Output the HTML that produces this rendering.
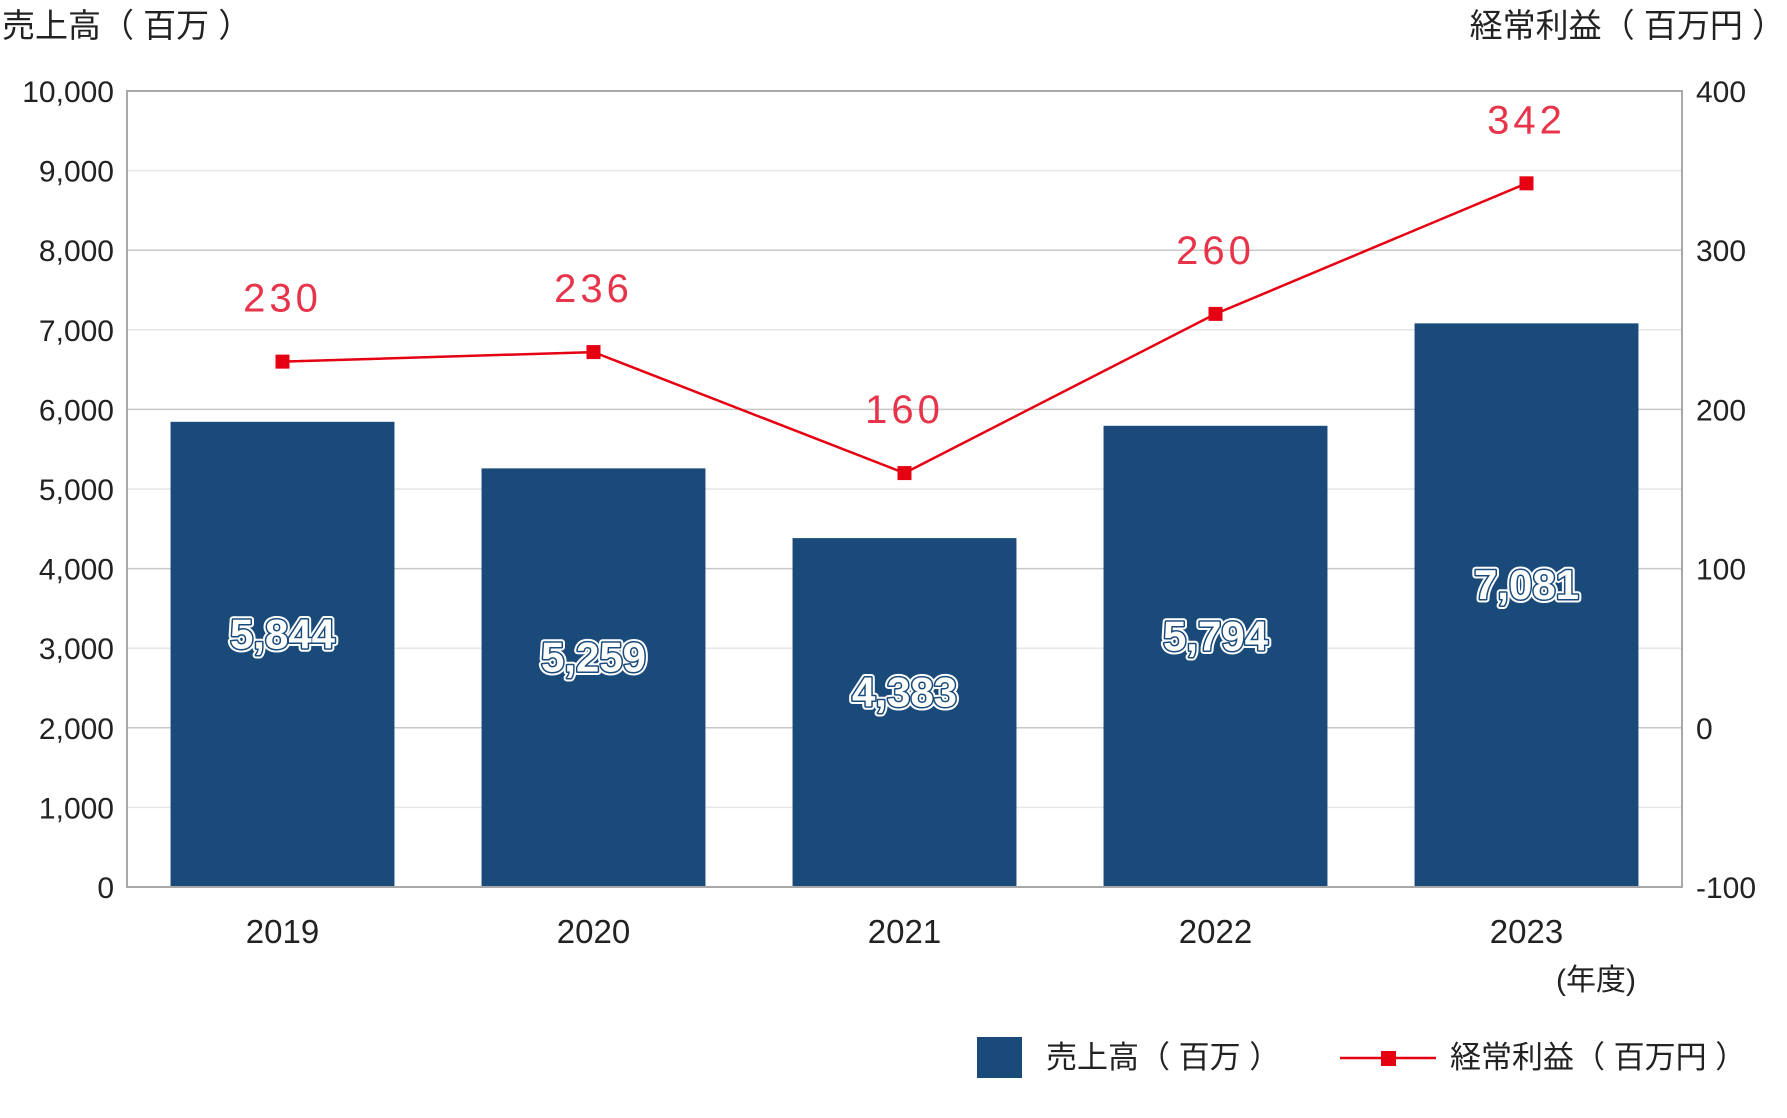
<!DOCTYPE html>
<html><head><meta charset="utf-8"><style>
body{margin:0;background:#fff;width:1787px;height:1113px;overflow:hidden;font-family:"Liberation Sans","Noto Sans CJK JP",sans-serif;}
</style></head><body>
<svg id="c" width="1787" height="1113" xmlns="http://www.w3.org/2000/svg" style="font-family:'Liberation Sans','Noto Sans CJK JP',sans-serif"></svg>
<script>
const categories=["2019","2020","2021","2022","2023"];
const sales=[5844,5259,4383,5794,7081];
const profit=[230,236,160,260,342];
const leftTicks=[0,1000,2000,3000,4000,5000,6000,7000,8000,9000,10000];
const rightTicks=[-100,0,100,200,300,400];
const L=127,R=1682,T=91,B=887;
const svg=document.getElementById('c');
const NS='http://www.w3.org/2000/svg';
function mk(tag,attrs,name,txt){const e=document.createElementNS(NS,tag);for(const k in attrs)e.setAttribute(k,attrs[k]);


if(txt!==undefined)e.textContent=txt;svg.appendChild(e);return e;}
const yL=v=>B-(v/10000)*(B-T);
const yR=v=>B-((v+100)/500)*(B-T);
const band=(R-L)/categories.length;
const xC=i=>L+band*(i+0.5);
const bw=band*0.72;
leftTicks.forEach(t=>{ if(t>0&&t<10000) mk('line',{x1:L,x2:R,y1:yL(t),y2:yL(t),stroke:(t%2000===0)?'#c8c8c8':'#e6e6e6','stroke-width':1.5},'gridline');
 mk('text',{x:114,y:yL(t)+11,'text-anchor':'end','font-size':30,fill:'#222'},'left-tick-label',t.toLocaleString('en-US'));});
rightTicks.forEach(t=>{mk('text',{x:1696,y:yR(t)+11,'font-size':30,fill:'#222'},'right-tick-label',String(t));});
categories.forEach((c,i)=>{
 mk('rect',{x:xC(i)-bw/2,y:yL(sales[i]),width:bw,height:B-yL(sales[i]),fill:'#194a7a'},'sales-bar-'+c);
 mk('text',{x:xC(i),y:931+12,'text-anchor':'middle','font-size':33,fill:'#222'},'x-tick-label',c);
});
mk('rect',{x:L,y:T,width:R-L,height:B-T,fill:'none',stroke:'#a8a8a8','stroke-width':2},'plot-frame');
categories.forEach((c,i)=>{
 const ly=(yL(sales[i])+B)/2-20;
 mk('text',{x:xC(i),y:ly+14,'text-anchor':'middle','font-size':42,'font-weight':'bold',fill:'#fff',stroke:'#fff','stroke-width':7,'stroke-linejoin':'round'},'sales-label-halo',sales[i].toLocaleString('en-US'));
 mk('text',{x:xC(i),y:ly+14,'text-anchor':'middle','font-size':42,'font-weight':'bold',fill:'#fff',stroke:'#194a7a','stroke-width':3,'paint-order':'stroke','stroke-linejoin':'round'},'sales-value-label',sales[i].toLocaleString('en-US'));
});
mk('polyline',{points:profit.map((v,i)=>xC(i)+','+yR(v)).join(' '),fill:'none',stroke:'#e50012','stroke-width':2.5},'profit-line');
profit.forEach((v,i)=>{
 mk('rect',{x:xC(i)-7,y:yR(v)-7,width:14,height:14,fill:'#e50012'},'profit-marker');
 mk('text',{x:xC(i),y:yR(v)-50,'text-anchor':'middle','font-size':40,fill:'#e8344a','letter-spacing':4},'profit-value-label',String(v));
});
mk('text',{x:2,y:37,'font-size':33,fill:'#222'},'left-axis-title','売上高（ 百万 ）');
mk('text',{x:1785,y:37,'text-anchor':'end','font-size':33,fill:'#222'},'right-axis-title','経常利益（ 百万円 ）');
mk('text',{x:1596,y:990,'text-anchor':'middle','font-size':30,fill:'#222'},'x-axis-unit','(年度)');
mk('rect',{x:977,y:1037,width:45,height:41,fill:'#194a7a'},'legend-sales-swatch');
mk('text',{x:1046,y:1068,'font-size':31,fill:'#222'},'legend-sales-label','売上高（ 百万 ）');
mk('line',{x1:1340,x2:1436,y1:1058,y2:1058,stroke:'#e50012','stroke-width':2.5},'legend-profit-line');
mk('rect',{x:1381,y:1051,width:15,height:15,fill:'#e50012'},'legend-profit-marker');
mk('text',{x:1450,y:1068,'font-size':31,fill:'#222'},'legend-profit-label','経常利益（ 百万円 ）');
</script>
</body></html>
